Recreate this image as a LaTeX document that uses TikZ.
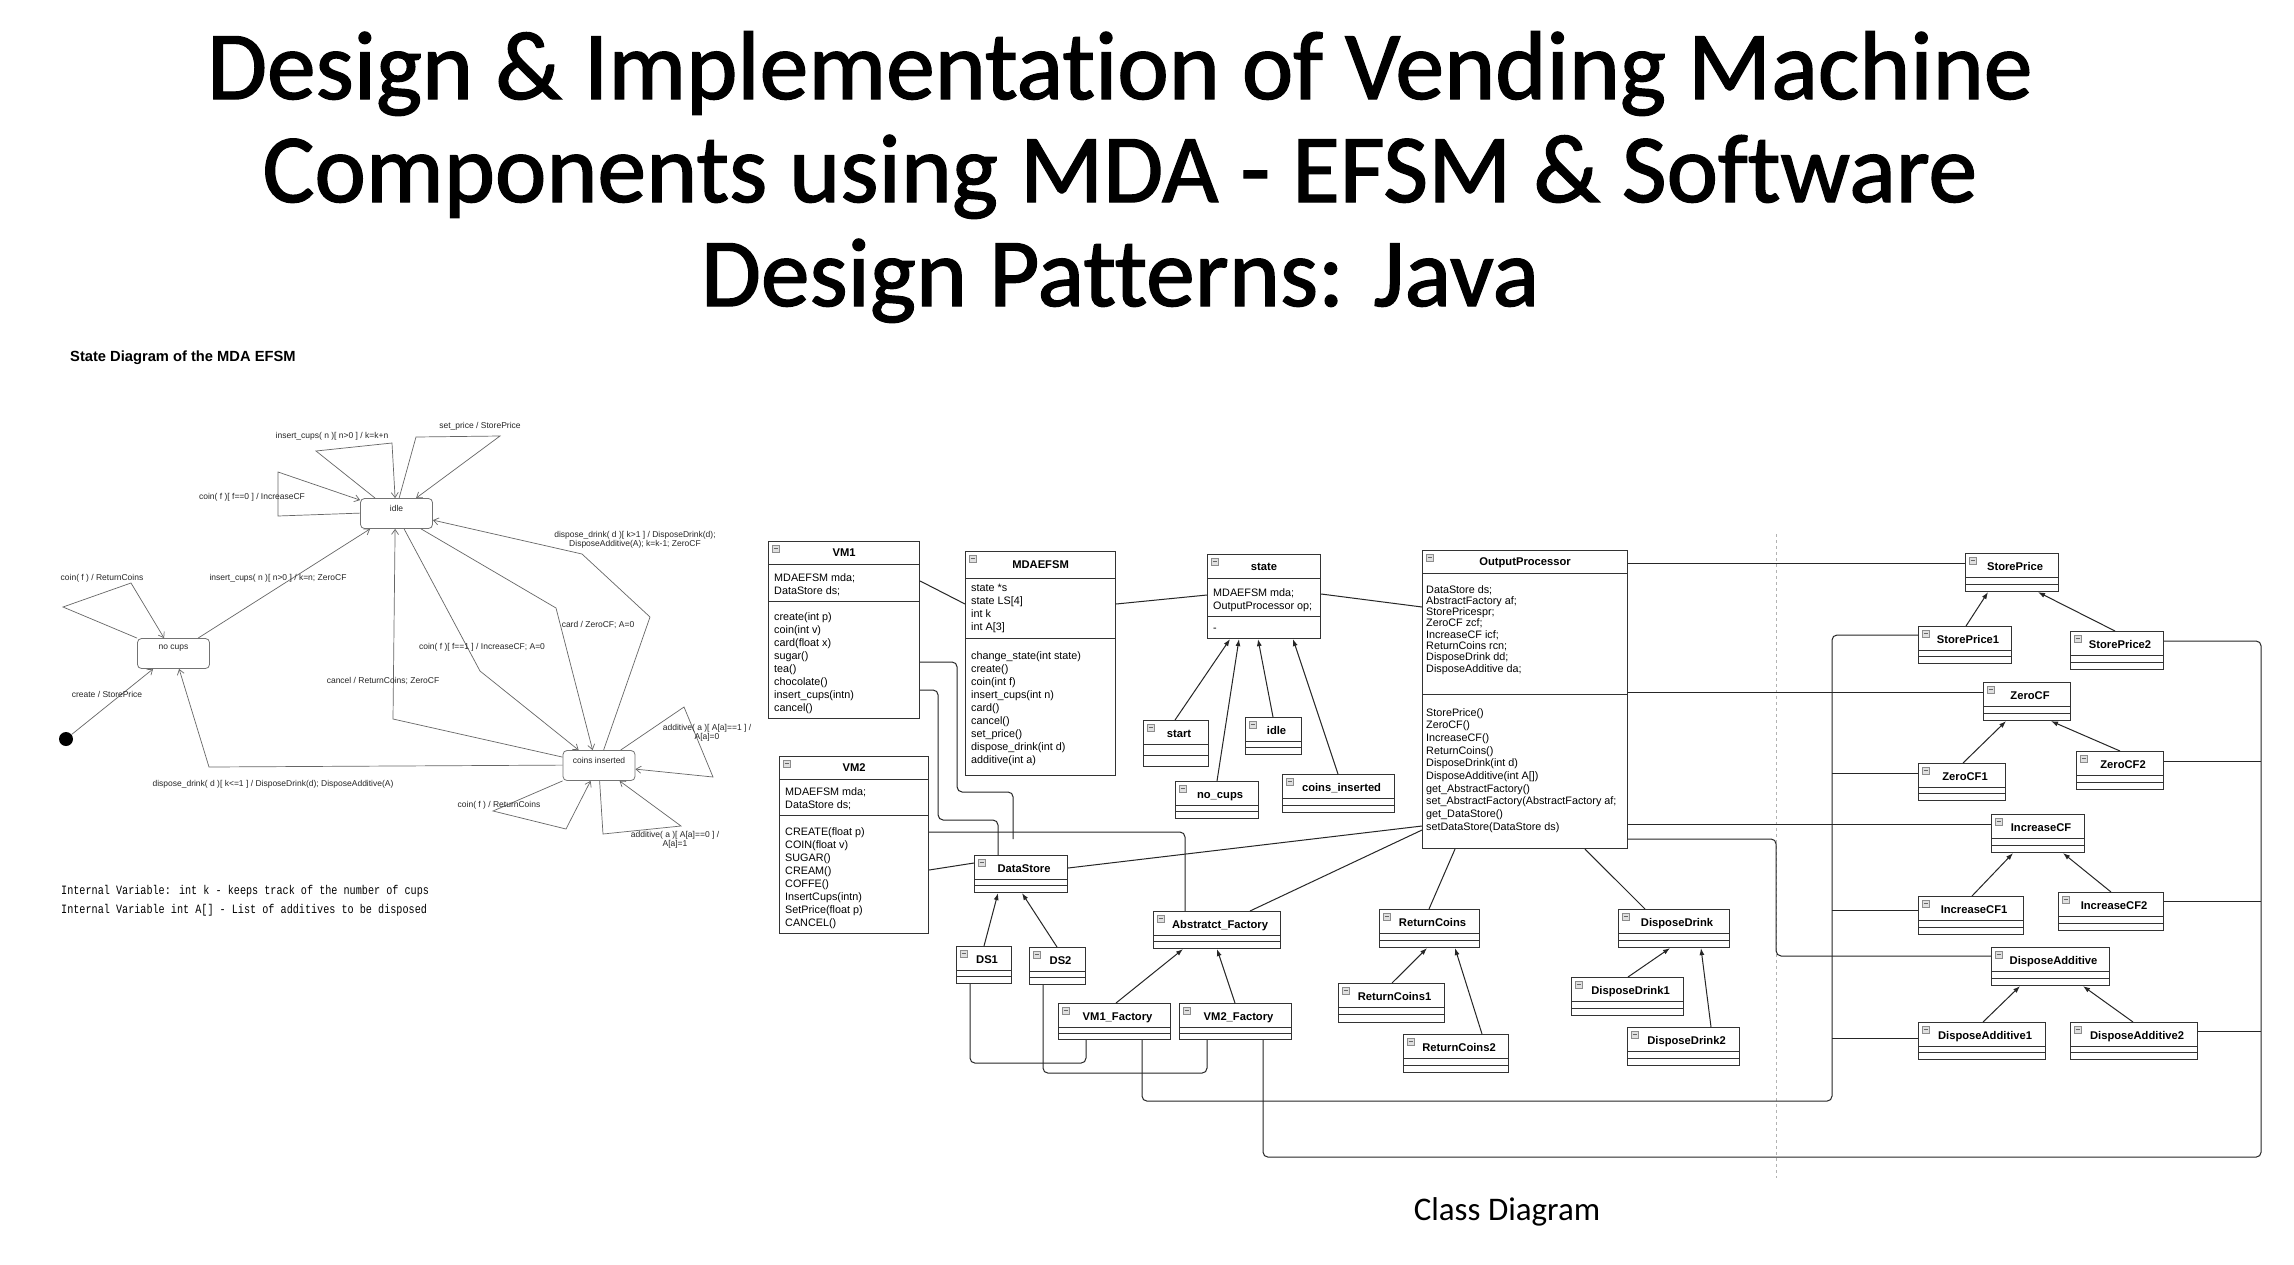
\documentclass[tikz,border=0pt]{standalone}
\usepackage{fontspec}
\setmainfont{Liberation Sans}
\newfontfamily\titlefont[Ligatures = NoCommon, FakeBold = 1.4]{Carlito}
\newfontfamily\labelfont[Ligatures = NoCommon]{Carlito}
\newfontfamily\notefont[FakeStretch = 0.8]{Liberation Mono}
\usetikzlibrary{arrows.meta}

\tikzset{
    stbox/.style = {draw = black!55, line width = 0.8pt, rounded corners = 4pt, minimum width = 72, minimum height = 30, inner sep = 0pt},
    trans/.style = {draw = black!60, line width = 0.7pt, -{Straight Barb[length = 5pt, width = 7pt]}},
    tlabel/.style = {font = \fontsize{8.5}{9.5}\selectfont, text = black!85, inner sep = 0pt, align = center},
    umlbox/.style = {draw = black!80, line width = 1.1pt, fill = white, inner sep = 0pt},
    umlname/.style = {font = \bfseries\fontsize{11.2}{13}\selectfont, inner sep = 0pt, anchor = base},
    umltext/.style = {font = \fontsize{10.8}{13}\selectfont, inner sep = 0pt, align = left, anchor = north west},
    assoc/.style = {draw = black!85, line width = 1pt, rounded corners = 5pt},
    inherit/.style = {draw = black!85, line width = 1pt, -{Latex[length = 7pt, width = 5pt]}}
}

\newcommand{\umlicon}[1]{%
    \filldraw[draw = black!45, fill = black!12, line width = 0.4pt] ([xshift = 4pt, yshift = -4pt]#1.north west) rectangle ++(7pt, -7pt);
    \draw[black!60, line width = 0.6pt] ([xshift = 5.5pt, yshift = -7.5pt]#1.north west) -- ++(4pt, 0pt);
}

\newcommand{\umlclass}[8]{%
    \node[umlbox, minimum width = #4, minimum height = #5, anchor = north west] (#1) at (#2, #3) {};
    \draw[black!80, line width = 1pt] ([yshift = -#6pt]#1.north west) -- ([yshift = -#6pt]#1.north east);
    \draw[black!80, line width = 1pt] ([yshift = -#7pt]#1.north west) -- ([yshift = -#7pt]#1.north east);
    \node[umlname] (#1-t) at ([yshift = {-(#6 / 2 + 4)}]#1.north) {#8};
    \umlicon{#1}
}

\newcommand{\umlsmall}[6]{%
    \node[umlbox, minimum width = #4, minimum height = #5, anchor = north west] (#1) at (#2, #3) {};
    \draw[black!80, line width = 1pt] ([yshift = -24pt]#1.north west) -- ([yshift = -24pt]#1.north east);
    \draw[black!80, line width = 1pt] ([yshift = {-(24 + (#5 - 24) / 2)}]#1.north west) -- ([yshift = {-(24 + (#5 - 24) / 2)}]#1.north east);
    \node[umlname] (#1-t) at ([xshift = 3pt, yshift = -17pt]#1.north) {#6};
    \umlicon{#1}
}

\begin{document}
\begin{tikzpicture}[x = 1pt, y = -1pt]
    \useasboundingbox (0, 0) rectangle (2294, 1264);
    \fill[white] (0, 0) rectangle (2294, 1264);

    \node[font = \titlefont\fontsize{97.5}{100}\selectfont, anchor = base] (title1) at (1120, 99) {Design \& Implementation of Vending Machine};
    \node[font = \titlefont\fontsize{97.5}{100}\selectfont, anchor = base] (title2) at (1120, 202) {Components using MDA - EFSM \& Software};
    \node[font = \titlefont\fontsize{97.5}{100}\selectfont, anchor = base] (title3) at (1120, 306) {Design Patterns: Java};

    \node[font = \bfseries\fontsize{14.7}{16}\selectfont, anchor = base west, inner sep = 0pt] (sdtitle) at (70, 361) {State Diagram of the MDA EFSM};

    \node[stbox, label = {[tlabel, yshift = 5pt]center:idle}] (idle) at (396.5, 513.5) {};
    \node[stbox, label = {[tlabel, yshift = 5pt]center:no cups}] (nocups) at (173.5, 653.5) {};
    \node[stbox, label = {[tlabel, yshift = 5pt]center:coins inserted}] (ci) at (599, 765.5) {};
    \node[circle, fill = black, minimum size = 14, inner sep = 0pt] (init) at (66, 739) {};

    \draw[trans] (init) -- ([xshift = 16pt]nocups.south west);
    \draw[trans] (nocups.north west) -- (63, 607) -- (131, 583) -- ([xshift = 27pt]nocups.north west);
    \draw[trans] ([xshift = 61pt]nocups.north west) -- ([xshift = 10pt]idle.south west);
    \draw[trans] ([yshift = -15pt]idle.north west) -- (278, 516) -- (278, 472) -- ([yshift = -2pt]idle.north west);
    \draw[trans] ([xshift = 15pt]idle.north west) -- (316, 451) -- (392, 443) -- ([xshift = 35pt]idle.north west);
    \draw[trans] ([xshift = 39pt]idle.north west) -- (416, 437) -- (500, 436) -- ([xshift = 56pt]idle.north west);
    \draw[trans] ([xshift = 41pt]ci.north west) -- (650, 617) -- (582, 554) -- ([yshift = -22pt]idle.north east);
    \draw[trans] ([xshift = 61pt]idle.south west) -- (556, 608) -- ([xshift = 30pt]ci.north west);
    \draw[trans] ([xshift = 44pt]idle.south west) -- (480, 671) -- ([xshift = 16pt]ci.north west);
    \draw[trans] ([yshift = -7pt]ci.north west) -- (393, 719) -- ([xshift = 35pt]idle.south west);
    \draw[trans] ([yshift = -15pt]ci.north west) -- (209, 767) -- ([xshift = 42pt]nocups.south west);
    \draw[trans] (ci.south west) -- (493, 811) -- (566, 829) -- ([xshift = 28pt]ci.south west);
    \draw[trans] ([xshift = 37pt]ci.south west) -- (603, 834) -- (681, 826) -- ([xshift = 57pt]ci.south west);
    \draw[trans] ([xshift = 58pt]ci.north west) -- (684, 707) -- (713, 777) -- ([yshift = -19pt]ci.north east);

    \node[tlabel] (l1) at (107, 694) {create / StorePrice};
    \node[tlabel] (l2) at (102, 578) {coin( f ) / ReturnCoins};
    \node[tlabel] (l3) at (278, 578) {insert\_cups( n )[ n>0 ] / k=n; ZeroCF};
    \node[tlabel] (l4) at (252, 497) {coin( f )[ f==0 ] / IncreaseCF};
    \node[tlabel] (l5) at (332, 436) {insert\_cups( n )[ n>0 ] / k=k+n};
    \node[tlabel] (l6) at (480, 426) {set\_price / StorePrice};
    \node[tlabel] (l7) at (635, 540) {dispose\_drink( d )[ k>1 ] / DisposeDrink(d);\\DisposeAdditive(A); k=k-1; ZeroCF};
    \node[tlabel] (l8) at (598, 625) {card / ZeroCF; A=0};
    \node[tlabel] (l9) at (482, 647) {coin( f )[ f==1 ] / IncreaseCF; A=0};
    \node[tlabel] (l10) at (383, 681) {cancel / ReturnCoins; ZeroCF};
    \node[tlabel] (l11) at (273, 784) {dispose\_drink( d )[ k<=1 ] / DisposeDrink(d); DisposeAdditive(A)};
    \node[tlabel] (l12) at (499, 805) {coin( f ) / ReturnCoins};
    \node[tlabel] (l13) at (675, 840) {additive( a )[ A[a]==0 ] /\\A[a]=1};
    \node[tlabel] (l14) at (707, 733) {additive( a )[ A[a]==1 ] /\\A[a]=0};

    \node[font = \notefont\fontsize{12.7}{19}\selectfont, anchor = base west, inner sep = 0pt] (note1) at (61, 894) {Internal Variable: int k - keeps track of the number of cups};
    \node[font = \notefont\fontsize{12.7}{19}\selectfont, anchor = base west, inner sep = 0pt] (note2) at (61, 913) {Internal Variable int A[] - List of additives to be disposed};

    \umlclass{vm1}{768}{541}{151}{177}{23}{60}{VM1}
    \node[umltext] (vm1-a) at ([xshift = 6pt, yshift = -32pt]vm1.north west) {MDAEFSM mda;\\DataStore ds;};
    \node[umltext] (vm1-m) at ([xshift = 6pt, yshift = -71pt]vm1.north west) {create(int p)\\coin(int v)\\card(float x)\\sugar()\\tea()\\chocolate()\\insert\_cups(intn)\\cancel()};

    \umlclass{mda}{965}{551}{150}{224}{27}{87}{MDAEFSM}
    \node[umltext] (mda-a) at ([xshift = 6pt, yshift = -33pt]mda.north west) {state *s\\state LS[4]\\int k\\int A[3]};
    \node[umltext] (mda-m) at ([xshift = 6pt, yshift = -100pt]mda.north west) {change\_state(int state)\\create()\\coin(int f)\\insert\_cups(int n)\\card()\\cancel()\\set\_price()\\dispose\_drink(int d)\\additive(int a)};

    \umlclass{st}{1207}{554}{113}{84}{24}{62}{state}
    \node[umltext] (st-a) at ([xshift = 6pt, yshift = -34pt]st.north west) {MDAEFSM mda;\\OutputProcessor op;};
    \node[umltext, anchor = west] (st-m) at ([xshift = 6pt, yshift = -76pt]st.north west) {-};

    \umlclass{op}{1422}{550}{205}{298}{23}{144}{OutputProcessor}
    \node[umltext, font = \fontsize{10.8}{11.3}\selectfont] (op-a) at ([xshift = 4pt, yshift = -35pt]op.north west) {DataStore ds;\\AbstractFactory af;\\StorePricespr;\\ZeroCF zcf;\\IncreaseCF icf;\\ReturnCoins rcn;\\DisposeDrink dd;\\DisposeAdditive da;};
    \node[umltext, font = \fontsize{10.8}{12.7}\selectfont] (op-m) at ([xshift = 4pt, yshift = -158pt]op.north west) {StorePrice()\\ZeroCF()\\IncreaseCF()\\ReturnCoins()\\DisposeDrink(int d)\\DisposeAdditive(int A[])\\get\_AbstractFactory()\\set\_AbstractFactory(AbstractFactory af;\\get\_DataStore()\\setDataStore(DataStore ds)};

    \umlclass{vm2}{779}{756}{149}{177}{23}{59}{VM2}
    \node[umltext] (vm2-a) at ([xshift = 6pt, yshift = -31pt]vm2.north west) {MDAEFSM mda;\\DataStore ds;};
    \node[umltext] (vm2-m) at ([xshift = 6pt, yshift = -71pt]vm2.north west) {CREATE(float p)\\COIN(float v)\\SUGAR()\\CREAM()\\COFFE()\\InsertCups(intn)\\SetPrice(float p)\\CANCEL()};

    \umlsmall{sstart}{1143}{720}{65}{46}{start}
    \umlsmall{sidle}{1245}{717}{56}{37}{idle}
    \umlsmall{snocups}{1175}{781}{83}{37}{no\_cups}
    \umlsmall{sci}{1282}{774}{112}{38}{coins\_inserted}
    \umlsmall{ds}{974}{855}{93}{37}{DataStore}
    \umlsmall{ds1}{956}{946}{55}{37}{DS1}
    \umlsmall{ds2}{1029}{947}{56}{37}{DS2}
    \umlsmall{af}{1153}{911}{127}{37}{Abstratct\_Factory}
    \umlsmall{vm1f}{1058}{1003}{112}{36}{VM1\_Factory}
    \umlsmall{vm2f}{1179}{1003}{112}{36}{VM2\_Factory}
    \umlsmall{rc}{1379}{909}{100}{38}{ReturnCoins}
    \umlsmall{rc1}{1338}{983}{106}{39}{ReturnCoins1}
    \umlsmall{rc2}{1403}{1034}{105}{38}{ReturnCoins2}
    \umlsmall{dd}{1618}{909}{111}{38}{DisposeDrink}
    \umlsmall{dd1}{1571}{977}{112}{38}{DisposeDrink1}
    \umlsmall{dd2}{1627}{1027}{112}{38}{DisposeDrink2}
    \umlsmall{sp}{1965}{553}{93}{38}{StorePrice}
    \umlsmall{sp1}{1918}{626}{93}{37}{StorePrice1}
    \umlsmall{sp2}{2070}{631}{93}{38}{StorePrice2}
    \umlsmall{zcf}{1983}{682}{87}{38}{ZeroCF}
    \umlsmall{zcf1}{1918}{763}{87}{37}{ZeroCF1}
    \umlsmall{zcf2}{2076}{751}{87}{38}{ZeroCF2}
    \umlsmall{icf}{1991}{814}{93}{38}{IncreaseCF}
    \umlsmall{icf1}{1918}{896}{105}{38}{IncreaseCF1}
    \umlsmall{icf2}{2058}{892}{105}{38}{IncreaseCF2}
    \umlsmall{da}{1991}{947}{118}{38}{DisposeAdditive}
    \umlsmall{da1}{1918}{1022}{127}{37}{DisposeAdditive1}
    \umlsmall{da2}{2070}{1022}{127}{37}{DisposeAdditive2}

    \draw[black!30, dashed, line width = 0.6pt] (1776, 534) -- (1776, 1178);

    \draw[assoc] ([yshift = -40pt]vm1.north east) -- ([yshift = -53pt]mda.north west);
    \draw[assoc] ([yshift = -53pt]mda.north east) -- ([yshift = -41pt]st.north west);
    \draw[assoc] ([yshift = -40pt]st.north east) -- ([yshift = -57pt]op.north west);
    \draw[inherit] ([xshift = 32pt]sstart.north west) -- ([xshift = 23pt]st.south west);
    \draw[inherit] ([xshift = 42pt]snocups.north west) -- ([xshift = 32pt]st.south west);
    \draw[inherit] ([xshift = 28pt]sidle.north west) -- ([xshift = 51pt]st.south west);
    \draw[inherit] ([xshift = 56pt]sci.north west) -- ([xshift = 86pt]st.south west);

    \draw[assoc] ([yshift = -121pt]vm1.north east) -- ++(37, 0) -- ++(0, 130) -- ++(56, 0) -- ++(0, 47);
    \draw[assoc] ([yshift = -149pt]vm1.north east) -- ++(18, 0) |- ([xshift = 24pt, yshift = 35pt]ds.north west) -- ([xshift = 24pt]ds.north west);
    \draw[assoc] ([yshift = -76pt]vm2.north east) -| ([xshift = 32pt]af.north west);
    \draw[assoc] ([yshift = -114pt]vm2.north east) -- ([yshift = -8pt]ds.north west);
    \draw[assoc] ([yshift = -13pt]ds.north east) -- ([yshift = -276pt]op.north west);
    \draw[assoc] ([xshift = 97pt]af.north west) -- ([yshift = -280pt]op.north west);
    \draw[inherit] ([xshift = 28pt]ds1.north west) -- ([xshift = 24pt]ds.south west);
    \draw[inherit] ([xshift = 28pt]ds2.north west) -- ([xshift = 48pt]ds.south west);
    \draw[inherit] ([xshift = 58pt]vm1f.north west) -- ([xshift = 30pt]af.south west);
    \draw[inherit] ([xshift = 56pt]vm2f.north west) -- ([xshift = 64pt]af.south west);
    \draw[assoc] ([xshift = 14pt]ds1.south west) -- ++(0, 79) -| ([xshift = 28pt]vm1f.south west);
    \draw[assoc] ([xshift = 14pt]ds2.south west) -- ++(0, 88) -| ([xshift = 28pt]vm2f.south west);

    \draw[assoc] ([xshift = 84pt]vm1f.south west) -- ++(0, 61) -| ([xshift = -86pt, yshift = -9pt]sp1.north west) -- ([yshift = -9pt]sp1.north west);
    \draw[assoc] ([yshift = -10pt]zcf1.north west) -- ++(-86, 0);
    \draw[assoc] ([yshift = -14pt]icf1.north west) -- ++(-86, 0);
    \draw[assoc] ([yshift = -16pt]da1.north west) -- ++(-86, 0);
    \draw[assoc] ([xshift = 84pt]vm2f.south west) -- ++(0, 117) -| ([xshift = 97pt, yshift = -10pt]sp2.north east) -- ([yshift = -10pt]sp2.north east);
    \draw[assoc] ([yshift = -10pt]zcf2.north east) -- ++(97, 0);
    \draw[assoc] ([yshift = -9pt]icf2.north east) -- ++(97, 0);
    \draw[assoc] ([yshift = -9pt]da2.north east) -- ++(63, 0);

    \draw[assoc] ([yshift = -13pt]op.north east) -- ([yshift = -10pt]sp.north west);
    \draw[assoc] ([yshift = -142pt]op.north east) -- ([yshift = -10pt]zcf.north west);
    \draw[assoc] ([yshift = -274pt]op.north east) -- ([yshift = -10pt]icf.north west);
    \draw[assoc] ([yshift = -289pt]op.north east) -- ++(148, 0) |- ([yshift = -9pt]da.north west);
    \draw[assoc] ([xshift = 33pt]op.south west) -- ([xshift = 50pt]rc.north west);
    \draw[assoc] ([xshift = 163pt]op.south west) -- ([xshift = 27pt]dd.north west);

    \draw[inherit] ([xshift = 54pt]rc1.north west) -- ([xshift = 48pt]rc.south west);
    \draw[inherit] ([xshift = 79pt]rc2.north west) -- ([xshift = 76pt]rc.south west);
    \draw[inherit] ([xshift = 57pt]dd1.north west) -- ([xshift = 52pt]dd.south west);
    \draw[inherit] ([xshift = 84pt]dd2.north west) -- ([xshift = 83pt]dd.south west);
    \draw[inherit] ([xshift = 48pt]sp1.north west) -- ([xshift = 23pt]sp.south west);
    \draw[inherit] ([xshift = 45pt]sp2.north west) -- ([xshift = 73pt]sp.south west);
    \draw[inherit] ([xshift = 45pt]zcf1.north west) -- ([xshift = 23pt]zcf.south west);
    \draw[inherit] ([xshift = 44pt]zcf2.north west) -- ([xshift = 68pt]zcf.south west);
    \draw[inherit] ([xshift = 54pt]icf1.north west) -- ([xshift = 22pt]icf.south west);
    \draw[inherit] ([xshift = 53pt]icf2.north west) -- ([xshift = 72pt]icf.south west);
    \draw[inherit] ([xshift = 65pt]da1.north west) -- ([xshift = 29pt]da.south west);
    \draw[inherit] ([xshift = 63pt]da2.north west) -- ([xshift = 92pt]da.south west);

    \node[font = \labelfont\fontsize{33}{36}\selectfont, anchor = base] (cdtitle) at (1507, 1220) {Class Diagram};
\end{tikzpicture}
\end{document}
